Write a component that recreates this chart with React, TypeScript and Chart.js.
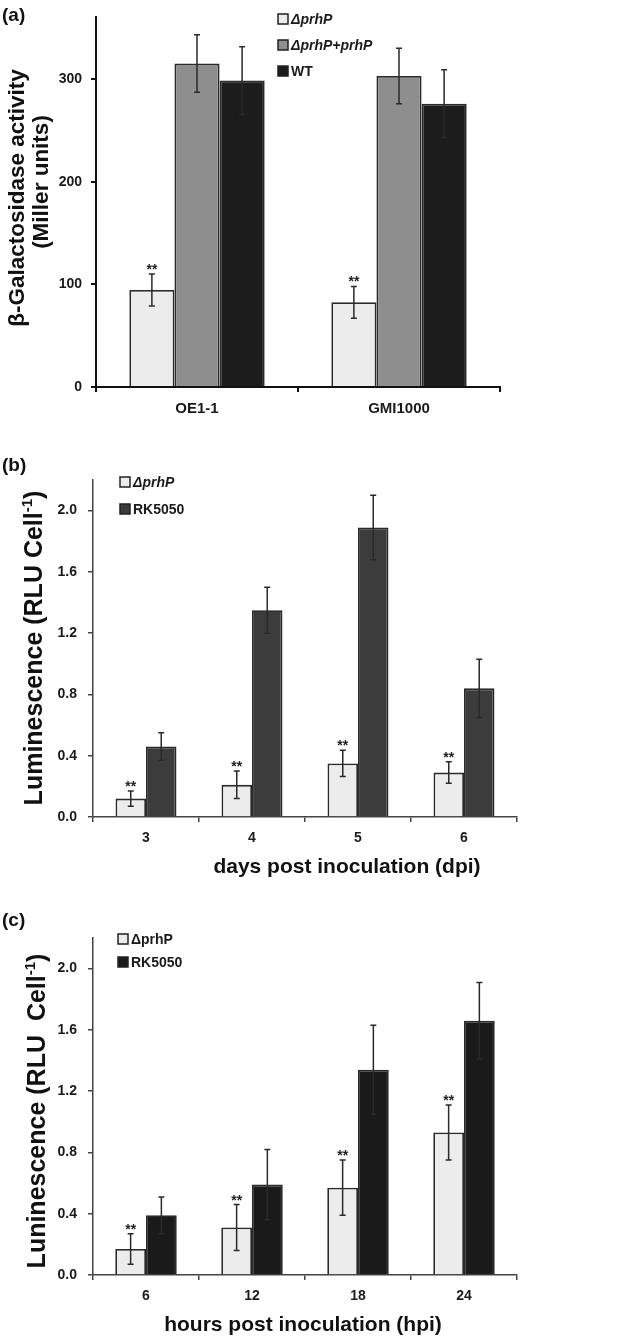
import React, { useEffect, useRef } from 'react';
import { Chart, registerables } from 'chart.js';
Chart.register(...registerables);

const FONT = '"Liberation Sans", Arial, Helvetica, sans-serif';

// ---------- Panel (a) ----------
const catsA = ['OE1-1', 'GMI1000'];
const mutantA = [94.5, 82.5];
const compA = [315, 303];
const wtA = [298.5, 276];
const mutantErrA = [15.5, 15.5];
const compErrA = [28, 27];
const wtErrA = [33, 33];
const yTicksA = [0, 100, 200, 300];

// ---------- Panel (b) ----------
const catsB = ['3', '4', '5', '6'];
const mutantB = [0.12, 0.21, 0.35, 0.29];
const rkB = [0.46, 1.35, 1.89, 0.84];
const mutantErrB = [0.05, 0.09, 0.085, 0.07];
const rkErrB = [0.09, 0.15, 0.21, 0.19];

// ---------- Panel (c) ----------
const catsC = ['6', '12', '18', '24'];
const mutantC = [0.17, 0.31, 0.57, 0.93];
const rkC = [0.39, 0.59, 1.34, 1.66];
const mutantErrC = [0.1, 0.15, 0.18, 0.18];
const rkErrC = [0.12, 0.23, 0.29, 0.25];

const yTicksBC = [0, 0.4, 0.8, 1.2, 1.6, 2.0];

type Series = { label: string; italic: boolean; data: number[]; err: number[]; color: string; stars: boolean };
type TitleLine = { text: string; sup?: string; tail?: string; x: number; y: number };
type Cfg = {
  top: number; height: number;
  area: { left: number; right: number; top: number; bottom: number };
  cats: string[]; series: Series[];
  yMax: number; yTicks: number[]; decimals: number; catPct: number;
  xFontSize: number; xPad: number; yPad: number;
  axisColor: string; axisWidth: number;
  legendX: number; legendYs: number[];
  yTitle: { lines: TitleLine[]; size: number; weight: string };
  xTitle?: { text: string; x: number; y: number; size: number };
  panel: { text: string; y: number };
};

const LIGHT = '#ececec';

const cfgA: Cfg = {
  top: 0, height: 430,
  area: { left: 96, right: 500, top: 17, bottom: 387 },
  cats: catsA,
  series: [
    { label: 'ΔprhP', italic: true, data: mutantA, err: mutantErrA, color: LIGHT, stars: true },
    { label: 'ΔprhP+prhP', italic: true, data: compA, err: compErrA, color: '#8e8e8e', stars: false },
    { label: 'WT', italic: false, data: wtA, err: wtErrA, color: '#1c1c1c', stars: false },
  ],
  yMax: 360, yTicks: yTicksA, decimals: 0, catPct: 0.67,
  xFontSize: 15, xPad: 8, yPad: 9,
  axisColor: '#111', axisWidth: 2,
  legendX: 278, legendYs: [19, 45, 71],
  yTitle: {
    lines: [
      { text: 'β-Galactosidase activity', x: 18, y: 198 },
      { text: '(Miller units)', x: 42, y: 182 },
    ], size: 22.5, weight: 'bold',
  },
  panel: { text: '(a)', y: 21 },
};

const cfgB: Cfg = {
  top: 430, height: 450,
  area: { left: 93, right: 517, top: 50, bottom: 387 },
  cats: catsB,
  series: [
    { label: 'ΔprhP', italic: true, data: mutantB, err: mutantErrB, color: LIGHT, stars: true },
    { label: 'RK5050', italic: false, data: rkB, err: rkErrB, color: '#3c3c3c', stars: false },
  ],
  yMax: 2.2, yTicks: yTicksBC, decimals: 1, catPct: 0.575,
  xFontSize: 14, xPad: 8, yPad: 11,
  axisColor: '#444', axisWidth: 1.5,
  legendX: 120, legendYs: [52, 79],
  yTitle: { lines: [{ text: 'Luminescence (RLU Cell', sup: '-1', tail: ')', x: 35, y: 218 }], size: 25, weight: 'bold' },
  xTitle: { text: 'days post inoculation (dpi)', x: 347, y: 437, size: 21 },
  panel: { text: '(b)', y: 41 },
};

const cfgC: Cfg = {
  top: 880, height: 463,
  area: { left: 93, right: 517, top: 58, bottom: 395 },
  cats: catsC,
  series: [
    { label: 'ΔprhP', italic: false, data: mutantC, err: mutantErrC, color: LIGHT, stars: true },
    { label: 'RK5050', italic: false, data: rkC, err: rkErrC, color: '#1a1a1a', stars: false },
  ],
  yMax: 2.2, yTicks: yTicksBC, decimals: 1, catPct: 0.58,
  xFontSize: 14, xPad: 8, yPad: 11,
  axisColor: '#444', axisWidth: 1.5,
  legendX: 118, legendYs: [59, 82],
  yTitle: { lines: [{ text: 'Luninescence (RLU  Cell', sup: '-1', tail: ')', x: 38, y: 231 }], size: 25, weight: 'bold' },
  xTitle: { text: 'hours post inoculation (hpi)', x: 303, y: 445, size: 21 },
  panel: { text: '(c)', y: 46 },
};

function overlay(cfg: Cfg) {
  return {
    id: 'overlay',
    afterDatasetsDraw(chart: any) {
      const ctx = chart.ctx as CanvasRenderingContext2D;
      const y = chart.scales.y;
      cfg.series.forEach((s, i) => {
        const meta = chart.getDatasetMeta(i);
        meta.data.forEach((el: any, j: number) => {
          const x = el.x;
          const t = y.getPixelForValue(s.data[j] + s.err[j]);
          const b = y.getPixelForValue(s.data[j] - s.err[j]);
          ctx.save();
          ctx.strokeStyle = '#2a2a2a';
          ctx.lineWidth = 1.5;
          ctx.beginPath();
          ctx.moveTo(x, t); ctx.lineTo(x, b);
          ctx.moveTo(x - 3, t); ctx.lineTo(x + 3, t);
          ctx.moveTo(x - 3, b); ctx.lineTo(x + 3, b);
          ctx.stroke();
          if (s.stars) {
            ctx.fillStyle = '#222';
            ctx.font = `bold 14px ${FONT}`;
            ctx.textAlign = 'center';
            ctx.textBaseline = 'alphabetic';
            ctx.fillText('**', x, t);
          }
          ctx.restore();
        });
      });
    },
    afterDraw(chart: any) {
      const ctx = chart.ctx as CanvasRenderingContext2D;
      ctx.save();
      // legend
      cfg.series.forEach((s, i) => {
        const yy = cfg.legendYs[i];
        ctx.fillStyle = s.color;
        ctx.fillRect(cfg.legendX, yy - 5, 10, 10);
        ctx.strokeStyle = '#222';
        ctx.lineWidth = 1.5;
        ctx.strokeRect(cfg.legendX, yy - 5, 10, 10);
        ctx.fillStyle = '#1a1a1a';
        ctx.font = `${s.italic ? 'italic ' : ''}bold 14px ${FONT}`;
        ctx.textAlign = 'left';
        ctx.textBaseline = 'middle';
        ctx.fillText(s.label, cfg.legendX + 13, yy + 1);
      });
      // panel label
      ctx.fillStyle = '#111';
      ctx.font = `bold 19px ${FONT}`;
      ctx.textAlign = 'left';
      ctx.textBaseline = 'alphabetic';
      ctx.fillText(cfg.panel.text, 2, cfg.panel.y);
      // x title
      if (cfg.xTitle) {
        ctx.font = `bold ${cfg.xTitle.size}px ${FONT}`;
        ctx.textAlign = 'center';
        ctx.textBaseline = 'middle';
        ctx.fillText(cfg.xTitle.text, cfg.xTitle.x, cfg.xTitle.y);
      }
      // y title
      const size = cfg.yTitle.size;
      const mainFont = `${cfg.yTitle.weight} ${size}px ${FONT}`;
      const supFont = `${cfg.yTitle.weight} ${Math.round(size * 0.6)}px ${FONT}`;
      cfg.yTitle.lines.forEach((ln) => {
        ctx.save();
        ctx.translate(ln.x, ln.y);
        ctx.rotate(-Math.PI / 2);
        ctx.textBaseline = 'middle';
        ctx.textAlign = 'left';
        ctx.font = mainFont;
        const w1 = ctx.measureText(ln.text).width;
        ctx.font = supFont;
        const w2 = ln.sup ? ctx.measureText(ln.sup).width : 0;
        ctx.font = mainFont;
        const w3 = ln.tail ? ctx.measureText(ln.tail).width : 0;
        let x0 = -(w1 + w2 + w3) / 2;
        ctx.fillText(ln.text, x0, 0);
        x0 += w1;
        if (ln.sup) {
          ctx.font = supFont;
          ctx.fillText(ln.sup, x0, -size * 0.3);
          x0 += w2;
        }
        if (ln.tail) {
          ctx.font = mainFont;
          ctx.fillText(ln.tail, x0, 0);
        }
        ctx.restore();
      });
      ctx.restore();
    },
  };
}

function buildConfig(cfg: Cfg): any {
  const W = 619;
  return {
    type: 'bar',
    data: {
      labels: cfg.cats,
      datasets: cfg.series.map((s) => ({
        label: s.label,
        data: s.data,
        backgroundColor: s.color,
        borderColor: '#2a2a2a',
        borderWidth: 1.8,
        barPercentage: 1,
        categoryPercentage: cfg.catPct,
      })),
    },
    options: {
      responsive: false,
      animation: false,
      devicePixelRatio: 1,
      layout: { padding: { left: 0, top: cfg.area.top, right: W - cfg.area.right, bottom: 0 } },
      plugins: { legend: { display: false }, tooltip: { enabled: false } },
      scales: {
        x: {
          type: 'category',
          offset: true,
          grid: { display: true, drawOnChartArea: false, drawTicks: true, tickLength: 5, color: cfg.axisColor, lineWidth: cfg.axisWidth, offset: true },
          border: { display: true, color: cfg.axisColor, width: cfg.axisWidth },
          ticks: { color: '#1a1a1a', font: { family: FONT, size: cfg.xFontSize, weight: 'bold' }, padding: cfg.xPad, maxRotation: 0, autoSkip: false },
          afterFit: (s: any) => { s.height = cfg.height - cfg.area.bottom; },
        },
        y: {
          min: 0,
          max: cfg.yMax,
          grid: { display: true, drawOnChartArea: false, drawTicks: true, tickLength: 5, color: cfg.axisColor, lineWidth: cfg.axisWidth },
          border: { display: true, color: cfg.axisColor, width: cfg.axisWidth },
          ticks: {
            color: '#1a1a1a',
            font: { family: FONT, size: 14, weight: 'bold' },
            padding: cfg.yPad,
            callback: (v: any) => Number(v).toFixed(cfg.decimals),
          },
          afterBuildTicks: (s: any) => { s.ticks = cfg.yTicks.map((v) => ({ value: v })); },
          afterFit: (s: any) => { s.width = cfg.area.left; },
        },
      },
    },
    plugins: [overlay(cfg)],
  };
}

function Panel({ cfg }: { cfg: Cfg }) {
  const ref = useRef<HTMLCanvasElement>(null);
  useEffect(() => {
    const chart = new Chart(ref.current as HTMLCanvasElement, buildConfig(cfg));
    return () => chart.destroy();
  }, [cfg]);
  return (
    <canvas
      ref={ref}
      width={619}
      height={cfg.height}
      style={{ position: 'absolute', left: 0, top: cfg.top, width: 619, height: cfg.height, display: 'block' }}
    />
  );
}

export default function App() {
  return (
    <div style={{ position: 'fixed', left: 0, top: 0, width: 619, height: 1343, background: '#fff' }}>
      <Panel cfg={cfgA} />
      <Panel cfg={cfgB} />
      <Panel cfg={cfgC} />
    </div>
  );
}
